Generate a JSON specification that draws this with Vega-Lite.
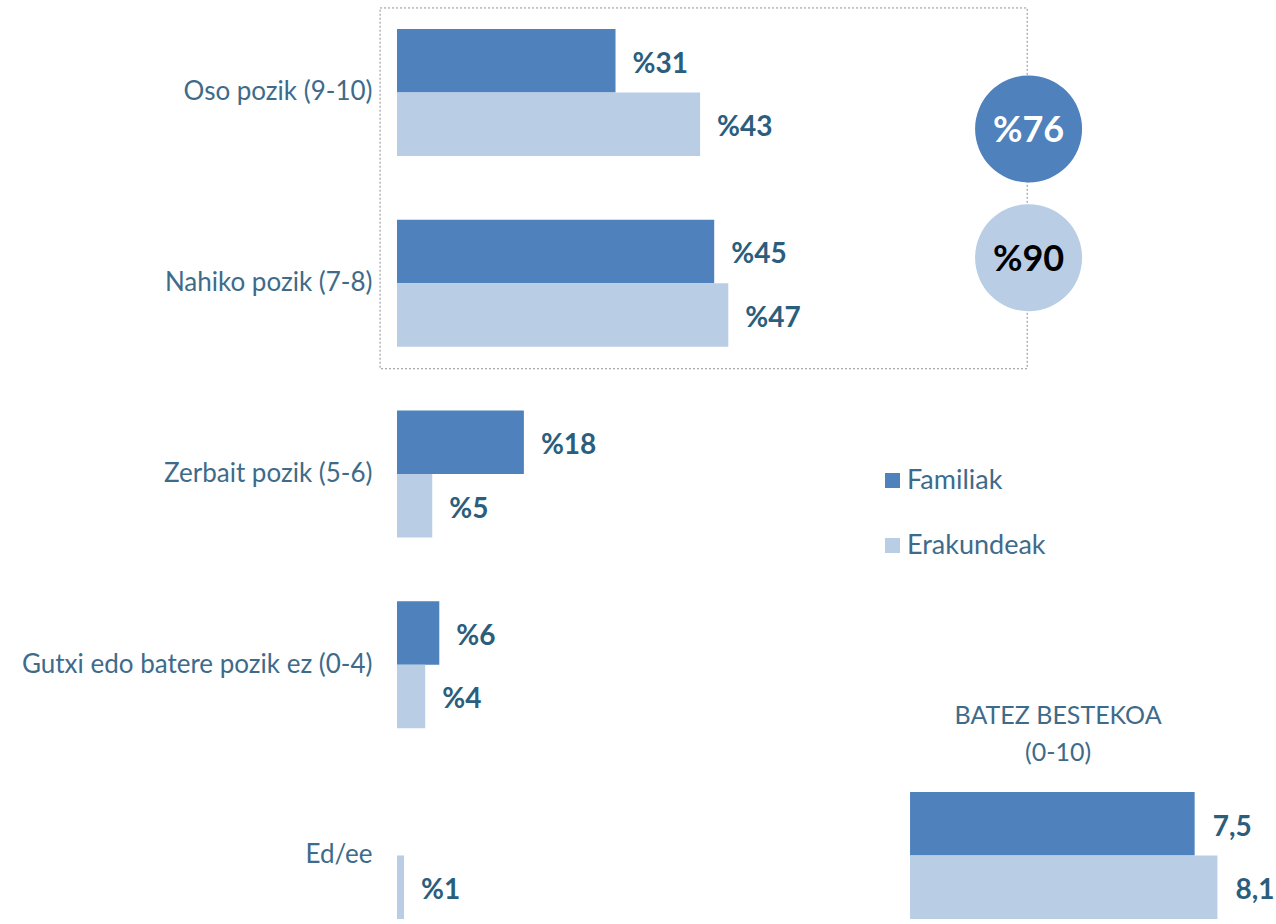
{
  "$schema": "https://vega.github.io/schema/vega-lite/v6.json",
  "width": 879,
  "height": 924,
  "autosize": {"type": "none"},
  "padding": {"left": 397, "top": 0, "right": 0, "bottom": 0},
  "background": "white",
  "config": {
    "view": {"stroke": null},
    "font": "Lato",
    "axisY": {"title": null, "domain": false, "ticks": false, "tickSize": 0, "labelPadding": 25, "labelFontSize": 26, "labelColor": "#3E6B8A", "labelLimit": 400, "labelFont": "Lato", "grid": false}
  },
  "datasets": {
    "main": [
      {"cat": "Oso pozik (9-10)", "series": "Familiak", "v": 31, "label": "%31"},
      {"cat": "Oso pozik (9-10)", "series": "Erakundeak", "v": 43, "label": "%43"},
      {"cat": "Nahiko pozik (7-8)", "series": "Familiak", "v": 45, "label": "%45"},
      {"cat": "Nahiko pozik (7-8)", "series": "Erakundeak", "v": 47, "label": "%47"},
      {"cat": "Zerbait pozik (5-6)", "series": "Familiak", "v": 18, "label": "%18"},
      {"cat": "Zerbait pozik (5-6)", "series": "Erakundeak", "v": 5, "label": "%5"},
      {"cat": "Gutxi edo batere pozik ez (0-4)", "series": "Familiak", "v": 6, "label": "%6"},
      {"cat": "Gutxi edo batere pozik ez (0-4)", "series": "Erakundeak", "v": 4, "label": "%4"},
      {"cat": "Ed/ee", "series": "Erakundeak", "v": 1, "label": "%1"}
    ],
    "avg": [
      {"cat": "Ed/ee", "series": "Familiak", "v": 7.5, "label": "7,5"},
      {"cat": "Ed/ee", "series": "Erakundeak", "v": 8.1, "label": "8,1"}
    ]
  },
  "layer": [
    {
      "layer": [
        {
          "data": {"values": [{"top": "Oso pozik (9-10)", "bottom": "Nahiko pozik (7-8)"}]},
          "mark": {"type": "rect", "fill": "transparent", "stroke": "#8A8F96", "strokeWidth": 1, "strokeDash": [2, 2], "yOffset": -21, "y2Offset": 22},
          "encoding": {
            "x": {"datum": -2.4, "type": "quantitative", "axis": null},
            "x2": {"datum": 89.4},
            "y": {"field": "top", "type": "nominal", "bandPosition": 0, "title": null},
            "y2": {"field": "bottom", "bandPosition": 1}
          }
        },
        {
          "data": {"name": "main"},
          "mark": {"type": "bar"},
          "encoding": {
            "y": {"field": "cat", "type": "nominal", "title": null,
              "scale": {"domain": ["Oso pozik (9-10)", "Nahiko pozik (7-8)", "Zerbait pozik (5-6)", "Gutxi edo batere pozik ez (0-4)", "Ed/ee"], "paddingInner": 0.334, "paddingOuter": 0.089, "align": 0.853}},
            "yOffset": {"field": "series", "type": "nominal", "scale": {"domain": ["Familiak", "Erakundeak"], "paddingInner": 0, "paddingOuter": 0}},
            "x": {"field": "v", "type": "quantitative", "axis": null, "scale": {"domain": [0, 124.7], "nice": false, "zero": false}},
            "x2": {"datum": 0},
            "color": {"field": "series", "type": "nominal",
              "scale": {"domain": ["Familiak", "Erakundeak"], "range": ["#4F81BD", "#B9CDE5"]},
              "legend": {"orient": "none", "legendX": 482, "legendY": 467, "title": null, "symbolType": "square", "symbolSize": 225, "symbolStrokeWidth": 0, "labelFontSize": 27, "labelFont": "Lato", "labelColor": "#3E6B8A", "labelOffset": 1, "rowPadding": 37, "padding": 0}}
          }
        },
        {
          "data": {"name": "main"},
          "mark": {"type": "text", "align": "left", "baseline": "middle", "dx": 17, "dy": 4, "fontSize": 28, "fontWeight": "bold", "color": "#2B5E7C"},
          "encoding": {
            "y": {"field": "cat", "type": "nominal", "title": null},
            "yOffset": {"field": "series", "type": "nominal"},
            "x": {"field": "v", "type": "quantitative", "axis": null},
            "text": {"field": "label"}
          }
        },
        {
          "data": {"values": [{"cat": "Oso pozik (9-10)", "label": "%76"}]},
          "encoding": {
            "y": {"field": "cat", "type": "nominal", "bandPosition": 0.787, "title": null},
            "x": {"datum": 89.6, "type": "quantitative", "axis": null}
          },
          "layer": [
            {"mark": {"type": "point", "shape": "circle", "filled": true, "size": 11449, "opacity": 1, "color": "#4F81BD", "strokeWidth": 0}},
            {"mark": {"type": "text", "align": "center", "baseline": "middle", "dy": 2, "fontSize": 36, "fontWeight": "bold", "color": "white"}, "encoding": {"text": {"field": "label"}}}
          ]
        },
        {
          "data": {"values": [{"cat": "Nahiko pozik (7-8)", "label": "%90"}]},
          "encoding": {
            "y": {"field": "cat", "type": "nominal", "bandPosition": 0.299, "title": null},
            "x": {"datum": 89.6, "type": "quantitative", "axis": null}
          },
          "layer": [
            {"mark": {"type": "point", "shape": "circle", "filled": true, "size": 11449, "opacity": 1, "color": "#B9CDE5", "strokeWidth": 0}},
            {"mark": {"type": "text", "align": "center", "baseline": "middle", "dy": 2, "fontSize": 36, "fontWeight": "bold", "color": "black"}, "encoding": {"text": {"field": "label"}}}
          ]
        }
      ]
    },
    {
      "layer": [
        {
          "data": {"name": "avg"},
          "mark": {"type": "bar"},
          "encoding": {
            "y": {"field": "cat", "type": "nominal", "title": null},
            "yOffset": {"field": "series", "type": "nominal"},
            "x": {"field": "v", "type": "quantitative", "axis": null, "scale": {"domain": [-13.52, 9.644], "nice": false, "zero": false}},
            "x2": {"datum": 0},
            "color": {"field": "series", "type": "nominal"}
          }
        },
        {
          "data": {"name": "avg"},
          "mark": {"type": "text", "align": "left", "baseline": "middle", "dx": 18, "dy": 4, "fontSize": 28, "fontWeight": "bold", "color": "#2B5E7C"},
          "encoding": {
            "y": {"field": "cat", "type": "nominal", "title": null},
            "yOffset": {"field": "series", "type": "nominal"},
            "x": {"field": "v", "type": "quantitative", "axis": null},
            "text": {"field": "label"}
          }
        },
        {
          "data": {"values": [{"cat": "Ed/ee"}]},
          "mark": {"type": "text", "align": "center", "baseline": "middle", "dy": -76, "lineHeight": 37, "fontSize": 25, "color": "#3E6B8A", "text": ["BATEZ BESTEKOA", "(0-10)"]},
          "encoding": {
            "y": {"field": "cat", "type": "nominal", "bandPosition": 0, "title": null},
            "x": {"datum": 3.9, "type": "quantitative", "axis": null}
          }
        }
      ]
    }
  ],
  "resolve": {"scale": {"x": "independent"}}
}
